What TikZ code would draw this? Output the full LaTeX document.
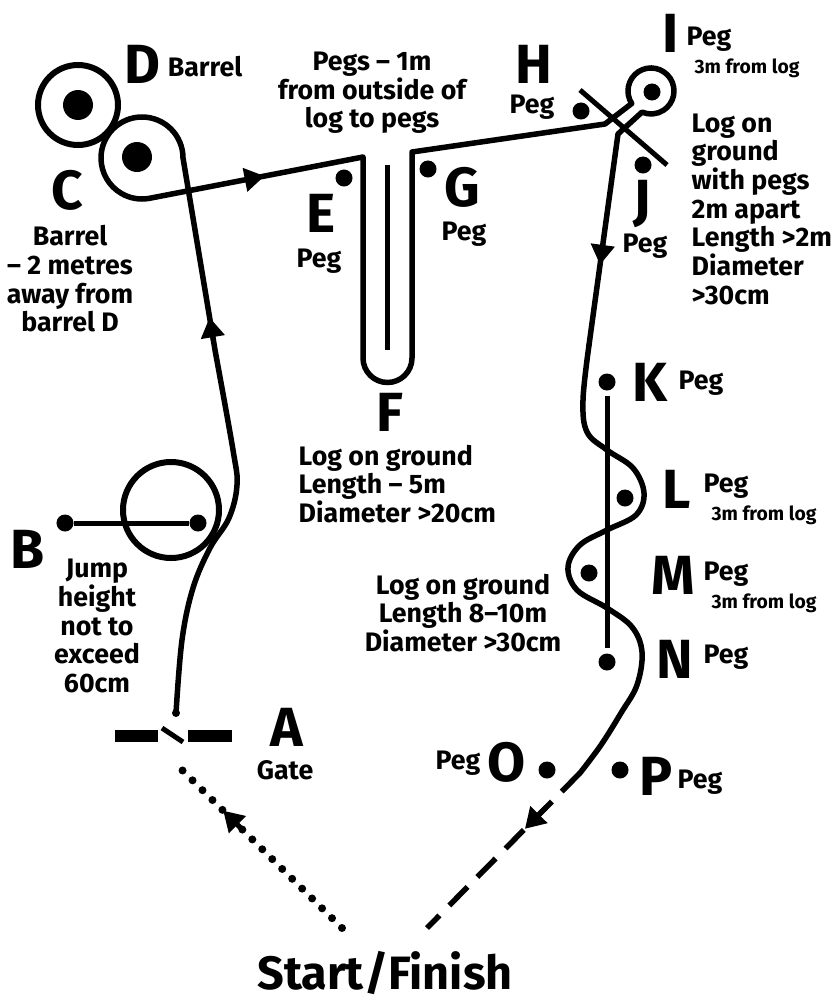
\documentclass[tikz,border=0pt]{standalone}
\usepackage{fontspec}
\setmainfont{Fira Sans}
\usetikzlibrary{arrows.meta,calc}

\tikzset{
  track/.style={line width=0.55mm, line join=round, line cap=round},
  logline/.style={line width=0.5mm},
  ring/.style={line width=0.6mm},
  pegdot/.style={circle, fill, inner sep=0pt, minimum size=1.7mm},
  letterlbl/.style={font=\fontsize{15.7}{16}\selectfont\bfseries, inner sep=0pt},
  textlbl/.style={font=\fontsize{7.6}{8.15}\selectfont\bfseries, inner sep=0pt, align=center},
  smalllbl/.style={font=\fontsize{5.5}{6}\selectfont\bfseries, inner sep=0pt},
  dirarrow/.style={-{Triangle[length=2mm,width=2.3mm]}, line width=0.5mm},
}

\begin{document}
\begin{tikzpicture}[x=0.01cm, y=-0.01cm]
  \useasboundingbox (0,0) rectangle (839,1000);

  % barrels C and D
  \draw[ring] (78,105) circle[radius=40];
  \fill (78,105) circle[radius=15];
  \fill (137,157) circle[radius=15];

  % pegs
  \foreach \p/\x/\y in {B1/65/523, B2/198/523, E/344/178, G/428/169, H/581/111, I/652/92,
      J/643/165, K/607/382, L/625/498, M/589/573, N/607/662, O/547/770, P/620/770}
    \node[pegdot] (peg\p) at (\x,\y) {};

  % logs and jump
  \draw[logline] (387,165) -- (387,350);
  \draw[logline] (580,90) -- (667,165);
  \draw[logline] (607,396) -- (607,648);
  \draw[logline] (pegB1) -- (pegB2);
  \draw[ring] (171,510) circle[radius=48];

  % gate
  \draw[line width=1.2mm] (115,736) -- (158,736);
  \draw[line width=1.2mm] (188,736) -- (232,736);
  \draw[line width=0.5mm] (162,728) -- (183,742);

  % the course
  \coordinate (gateend) at (176,713);
  \coordinate (jumpup) at (215,350);
  \coordinate (cloop) at (183,158);
  \coordinate (cornerE) at (363,157);
  \fill (gateend) circle[radius=4];
  \draw[track] plot[smooth, tension=0.6] coordinates {(176,713) (182,640) (193,588) (210,548)
      (229,518) (237,485) (233,450) (215,350)}
    -- (cloop) arc[start angle=0, end angle=-280, radius=41] coordinate (cexit)
    -- (cornerE) -- (363,358) arc[start angle=180, end angle=0, radius=24.5]
    -- (412,152) -- (605,124)
    -- (631.7,103.5) arc[start angle=147, end angle=473, radius=23]
    -- (618,134) coordinate (neckJ) -- (589,345) coordinate (bendK);
  \draw[track] plot[smooth, tension=0.6] coordinates {(589,345) (583,400) (587,432) (607,450)
      (633,468) (644,493) (636,515) (607,530) (580,545) (568,567) (577,590) (607,608)
      (632,627) (642,652) (637,685) (621,713) (601,745) (580,773)};

  \coordinate (dashstart) at (580,773);
  \coordinate (finish) at (427,928);
  \coordinate (start) at (342,928);
  \coordinate (gatein) at (177,765);
  \draw[line width=0.55mm, dash pattern=on 2.6mm off 1.4mm] (dashstart) -- (finish);
  \draw[line width=0.8mm, line cap=round, dash pattern=on 0pt off 1.4mm] (start) -- (gatein);

  % direction arrows
  \draw[dirarrow] ($(jumpup)!0.05!(cloop)$) -- ($(jumpup)!0.17!(cloop)$);
  \draw[dirarrow] ($(cexit)!0.45!(cornerE)$) -- ($(cexit)!0.54!(cornerE)$);
  \draw[dirarrow] ($(neckJ)!0.52!(bendK)$) -- ($(neckJ)!0.62!(bendK)$);
  \draw[dirarrow] ($(dashstart)!0.22!(finish)$) -- ($(dashstart)!0.36!(finish)$);
  \draw[dirarrow] ($(start)!0.6!(gatein)$) -- ($(start)!0.72!(gatein)$);

  % letters
  \foreach \l/\x/\y in {A/287/727, B/28/549, C/67/190, D/142/64, E/321/213, F/390/412,
      G/462/187, H/534/64, I/671/33, J/642/204, K/650/382, L/677/489, M/673/575,
      N/675/659, O/507/762, P/656/776}
    \node[letterlbl] (name\l) at (\x,\y) {\l};

  % peg labels
  \foreach \p/\x/\y in {E/319/261, G/464/234, H/532/107, I/709/39, J/645/246, K/701/383,
      L/726/486, M/726/574, N/726/657, O/458/763, P/700/782}
    \node[textlbl] (pegtxt\p) at (\x,\y) {Peg};
  \foreach \p/\x/\y in {I/747/68, L/764/515, M/764/603}
    \node[smalllbl] (dist\p) at (\x,\y) {3m from log};

  % notes
  \node[textlbl] (barrelD) at (205,67) {Barrel};
  \node[textlbl] (barrelC) at (70,279) {Barrel\\\textendash{} 2 metres\\away from\\barrel D};
  \node[textlbl] (pegsnote) at (372,93) {Pegs \textendash{} 1m\\from outside of\\log to pegs};
  \node[textlbl, anchor=west, align=left] (logIJ) at (691,209)
    {Log on\\ground\\with pegs\\2m apart\\Length >2m\\Diameter\\>30cm};
  \node[textlbl, anchor=west, align=left] (logF) at (298,484)
    {Log on ground\\Length \textendash{} 5m\\Diameter >20cm};
  \node[textlbl] (logKN) at (463,613) {Log on ground\\Length 8\textendash10m\\Diameter >30cm};
  \node[textlbl] (jumpB) at (97,626) {Jump\\height\\not to\\exceed\\60cm};
  \node[textlbl] (gateA) at (285,770) {Gate};
  \node[font=\fontsize{13.3}{14}\selectfont\bfseries, inner sep=0pt] (startfinish) at (385,973)
    {Start/Finish};
\end{tikzpicture}
\end{document}
